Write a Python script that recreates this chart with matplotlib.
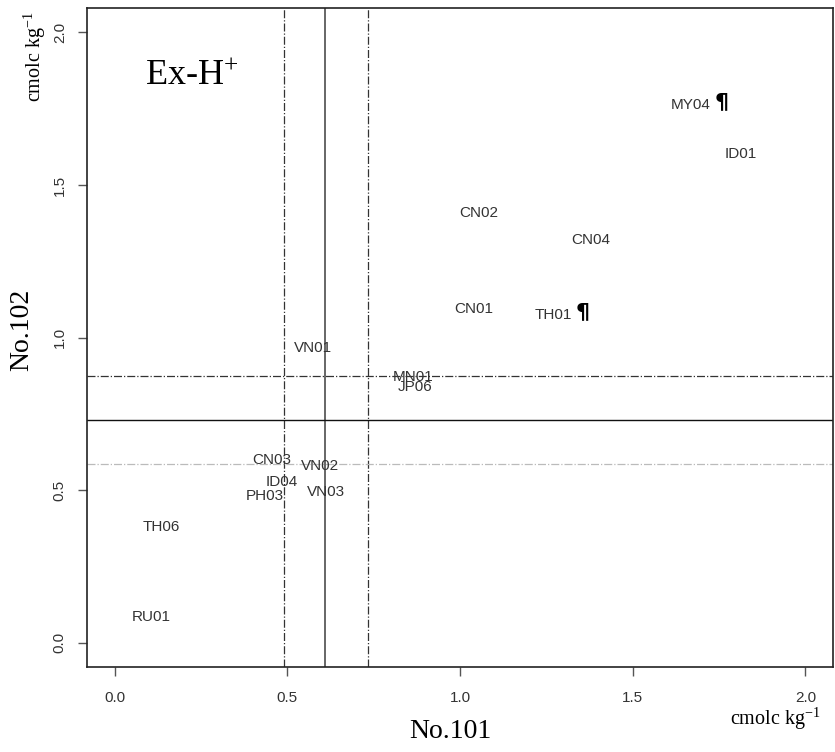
import matplotlib
matplotlib.use("Agg")
import matplotlib.pyplot as plt

# Data
labels = ["MY04", "ID01", "CN02", "CN04", "CN01", "TH01", "VN01", "MN01", "JP06",
          "CN03", "VN02", "ID04", "VN03", "PH03", "TH06", "RU01"]
x_no101 = [1.668, 1.812, 1.055, 1.379, 1.040, 1.269, 0.575, 0.864, 0.870,
           0.454, 0.595, 0.483, 0.613, 0.436, 0.136, 0.107]
y_no102 = [1.761, 1.600, 1.407, 1.318, 1.095, 1.075, 0.964, 0.872, 0.839,
           0.600, 0.580, 0.528, 0.492, 0.479, 0.380, 0.085]
flagged = ["MY04", "TH01"]

x_mean = 0.610
x_bounds = [0.491, 0.734]
y_mean = 0.728
y_upper = 0.875
y_lower = 0.584

ticks = [0.0, 0.5, 1.0, 1.5, 2.0]
tick_labels = ["0.0", "0.5", "1.0", "1.5", "2.0"]

plt.rcParams['mathtext.fontset'] = 'custom'
plt.rcParams['mathtext.rm'] = 'Liberation Serif'
plt.rcParams['mathtext.it'] = 'Liberation Serif'

fig = plt.figure(figsize=(8.35, 7.52), dpi=100)
ax = fig.add_axes([87/835, 85/752, (833-87)/835, (667-8)/752])

ax.set_xlim(-0.08, 2.08)
ax.set_ylim(-0.08, 2.08)

# reference lines
ax.axvline(x_mean, color='#666666', lw=1.4, zorder=1)
for xb in x_bounds:
    ax.axvline(xb, color='#333333', lw=0.9, ls='-.', zorder=1)
ax.axhline(y_mean, color='#111111', lw=1.0, zorder=1)
ax.axhline(y_upper, color='#333333', lw=0.9, ls='-.', zorder=1)
ax.axhline(y_lower, color='#bbbbbb', lw=0.9, ls='-.', zorder=1)

txt_color = '#333333'
for lab, xv, yv in zip(labels, x_no101, y_no102):
    t = ax.text(xv, yv, lab, ha='center', va='center', fontsize=11,
                family='Liberation Sans', color=txt_color, zorder=3)
    if lab in flagged:
        ax.annotate('¶', xy=(1.0, 0.5), xycoords=t, xytext=(3, 2),
                    textcoords='offset points', ha='left', va='center',
                    fontsize=16, fontweight='bold', family='DejaVu Sans',
                    color='black')

ax.set_xticks(ticks)
ax.set_xticklabels(tick_labels)
ax.set_yticks(ticks)
ax.set_yticklabels(tick_labels, rotation=90, va='center')
ax.tick_params(axis='both', direction='out', length=6.5, width=1.0, color='#555555',
               labelsize=11, labelcolor=txt_color)
ax.tick_params(axis='x', pad=11)
ax.tick_params(axis='y', pad=8)
for lbl in ax.get_xticklabels() + ax.get_yticklabels():
    lbl.set_family('Liberation Sans')

for s in ax.spines.values():
    s.set_color('#222222')
    s.set_linewidth(1.2)

# titles
fig.text(145/835, 1 - 85/752, 'Ex-H$^{+}$', fontsize=26,
         family='Liberation Serif', ha='left', va='baseline')
fig.text(450/835, 1 - 731/752, 'No.101', fontsize=20, family='Liberation Serif',
         ha='center', va='center')
fig.text(22/835, 1 - 330/752, 'No.102', fontsize=20, family='Liberation Serif',
         ha='center', va='center', rotation=90)
fig.text(775/835, 1 - 719/752, 'cmolc kg$^{-1}$', fontsize=14.5, family='Liberation Serif',
         ha='center', va='center')
fig.text(35/835, 1 - 57/752, 'cmolc kg$^{-1}$', fontsize=14.5, family='Liberation Serif',
         ha='center', va='center', rotation=90)

fig.savefig('out.png', dpi=100)
